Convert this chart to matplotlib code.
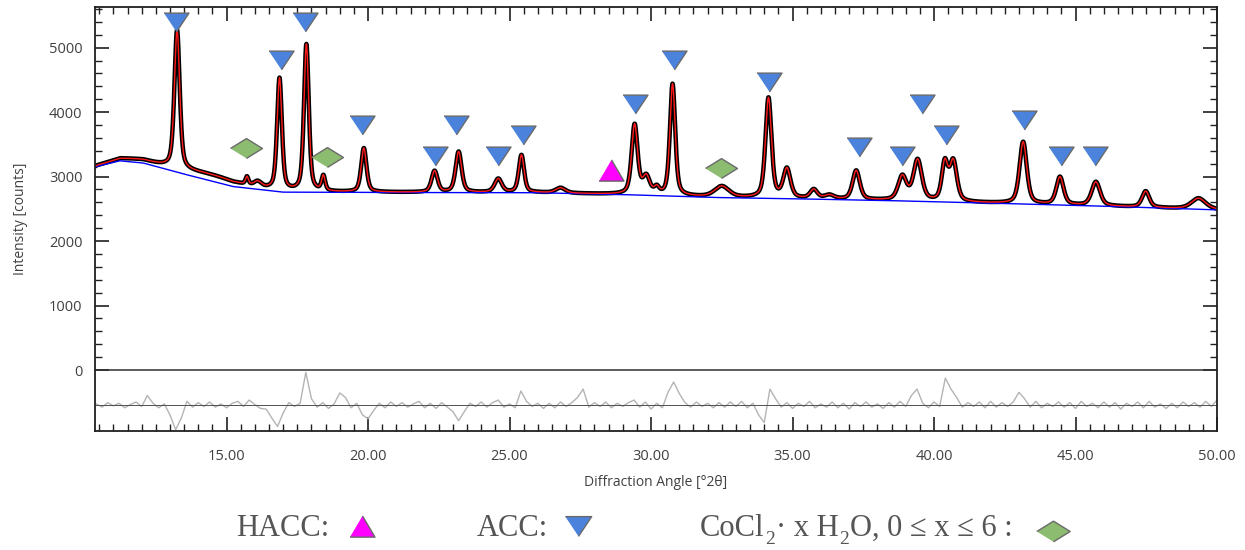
import numpy as np
import matplotlib
matplotlib.use('Agg')
import matplotlib.pyplot as plt
from matplotlib.lines import Line2D
from matplotlib.ticker import FixedLocator, MultipleLocator

plt.rcParams['font.family'] = ['Open Sans', 'DejaVu Sans']

# background (blue) control points
bg_x = [10.35, 10.41, 11.23, 12.06, 13.6, 15.23, 17.0, 21.7, 26.0, 29.3, 32.4, 35.8, 38.76, 42.9, 46.4, 50.0]
bg_y = [3140, 3157, 3245, 3210, 3028, 2846, 2759, 2753, 2750, 2717, 2675, 2650, 2624, 2578, 2536, 2484]

# fitted peaks: position [deg 2theta], height above background [counts], FWHM [deg]
pk_pos = [11.8, 13.25, 14.5, 15.72, 16.10, 16.87, 17.82, 18.42, 19.85, 22.35, 23.20, 24.60,
          25.42, 26.80, 29.42, 29.83, 30.20, 30.76, 32.50, 34.15, 34.80, 35.75, 36.30,
          37.25, 38.88, 39.42, 40.38, 40.68, 43.15, 44.45, 45.72, 47.48, 49.35]
pk_h = [40, 2150, 90, 120, 80, 1740, 2280, 230, 680, 330, 630, 210,
        580, 80, 1080, 270, 100, 1730, 170, 1550, 450, 140, 60,
        450, 370, 630, 580, 620, 960, 430, 370, 250, 170]
pk_w = [2.0, 0.22, 2.5, 0.12, 0.30, 0.20, 0.20, 0.15, 0.22, 0.25, 0.25, 0.30,
        0.22, 0.40, 0.25, 0.30, 0.20, 0.22, 0.60, 0.25, 0.30, 0.30, 0.40,
        0.30, 0.35, 0.35, 0.25, 0.30, 0.30, 0.30, 0.35, 0.30, 0.60]

# difference curve (obs - calc), sampled every 0.2 deg from 10.4
res_start = 10.4
res_step = 0.2
residual = [20, -30, 40, -10, 30, -40, 10, 50, -20, 150,
            30, -40, 20, -150, -380, -200, 60, -30, 40, -20,
            50, -30, 20, -40, 30, 60, -20, 80, 10, -50,
            -60, -200, -330, -120, 40, -20, 30, 510, 100, -30,
            40, -50, 20, 190, 120, -40, 30, -150, -210, -80,
            30, -40, 50, -20, 40, -30, 20, 60, -40, 30,
            -50, 40, -30, -100, -240, -100, 30, -20, 50, -30,
            40, 80, -30, 20, -40, 220, 60, -20, 30, -50,
            30, -40, 50, -20, 40, 120, 250, -30, 40, -20,
            50, -40, 30, -20, 40, 80, -30, 50, -60, 30,
            -40, 200, 360, 180, 40, -30, 50, -20, 30, -40,
            40, -30, 50, -20, 60, -40, 30, -150, -270, 250,
            100, -30, 40, -50, 30, -20, 60, -40, 20, -30,
            50, -40, 30, -60, 40, -20, 50, -30, 20, -50,
            40, -30, 60, -20, 150, 250, 30, -40, 50, -20,
            420, 250, 120, -30, 40, -20, 50, -40, 60, -30,
            40, -20, 50, 200, 100, -30, 60, -40, 30, -20,
            50, -30, 40, -50, 60, -20, 30, -40, 50, -30,
            40, -60, 30, -20, 50, -40, 60, -30, 20, -50,
            30, -40, 50, -20, 40, -30, 60, -20, 80]
res_offset = -545

# phase markers
acc_x = [13.21, 16.92, 17.76, 19.77, 22.35, 23.09, 24.58, 25.46, 29.45, 30.82, 34.18,
         37.35, 38.87, 39.58, 40.42, 43.18, 44.48, 45.68]
acc_y = [5404, 4814, 5404, 3804, 3323, 3804, 3323, 3649, 4130, 4814, 4472,
         3463, 3323, 4130, 3649, 3882, 3323, 3323]
hacc_x = [28.6]
hacc_y = [3106]
cocl_x = [15.68, 18.54, 32.48]
cocl_y = [3447, 3307, 3137]

tri_dn = [(-1, 0.75), (1, 0.75), (0, -0.75)]
tri_up = [(-1, -0.85), (1, -0.85), (0, 0.85)]
diamond = [(-1, 0), (0, 0.62), (1, 0), (0, -0.62)]
blue = '#4a82dc'
magenta = '#ff00ff'
green = '#8cbc70'
edge = '#6a6a6a'

x = np.linspace(10.35, 50.0, 5000)
bg = np.interp(x, bg_x, bg_y)
calc = bg.copy()
for c, h, w in zip(pk_pos, pk_h, pk_w):
    d = (x - c) / w
    calc += h * (0.5 / (1 + 4 * d**2) + 0.5 * np.exp(-4 * np.log(2) * d**2))
res_x = res_start + res_step * np.arange(len(residual))

fig = plt.figure(figsize=(12.45, 5.5), dpi=100)
ax = fig.add_axes([95 / 1245, 1 - 431 / 550, 1122 / 1245, 424 / 550])

ax.plot(res_x, res_offset + np.array(residual), color='#b4b4b4', lw=1.0)
ax.axhline(res_offset, color='#505050', lw=0.7)
ax.axhline(0, color='#303030', lw=1.1)
ax.plot(x, calc, color='black', lw=3.2)
ax.plot(bg_x, bg_y, color='#0000ff', lw=1.0)
ax.plot(x, calc, color='#ff1a1a', lw=1.0)

ax.plot(acc_x, acc_y, ls='none', marker=tri_dn, ms=18, mfc=blue, mec=edge, mew=1.0)
ax.plot(hacc_x, hacc_y, ls='none', marker=tri_up, ms=18, mfc=magenta, mec=edge, mew=1.0)
ax.plot(cocl_x, cocl_y, ls='none', marker=diamond, ms=23, mfc=green, mec=edge, mew=1.0)

ax.set_xlim(10.35, 50.0)
ax.set_ylim(-945, 5630)
ax.set_xticks([15, 20, 25, 30, 35, 40, 45, 50])
ax.set_xticklabels(['15.00', '20.00', '25.00', '30.00', '35.00', '40.00', '45.00', '50.00'])
ax.xaxis.set_minor_locator(MultipleLocator(0.5))
ax.set_yticks([0, 1000, 2000, 3000, 4000, 5000])
ax.yaxis.set_minor_locator(FixedLocator([v for v in range(200, 5601, 200) if v % 1000]))
ax.tick_params(which='both', direction='in', top=True, right=True, color='#202020',
               labelcolor='#404040', labelsize=10.5)
ax.tick_params(which='major', length=10, width=1.2)
ax.tick_params(which='minor', length=5, width=1.0)
ax.tick_params(axis='x', pad=13)
ax.tick_params(axis='y', pad=9)
for s in ax.spines.values():
    s.set_color('#202020')
    s.set_linewidth(1.3)
ax.set_xlabel('Diffraction Angle [°2θ]', fontsize=10, color='#404040', labelpad=8)
ax.set_ylabel('Intensity [counts]', fontsize=10, color='#404040', labelpad=15)

# legend row under the chart
def fx(px):
    return px / 1245

def fy(py):
    return 1 - py / 550

txt = dict(fontsize=22, family='Liberation Serif', color='#555555')
fig.text(fx(236), fy(536), 'HACC:', va='baseline', **txt)
fig.text(fx(477), fy(536), 'ACC:', va='baseline', **txt)

# formula drawn piece by piece so the subscripts sit low like in the original
first = fig.text(fx(700), fy(536), 'CoCl', va='baseline', **txt)
pieces = [('2', True), ('· x H', False), ('2', True), ('O, 0 ≤ x ≤ 6 :', False)]
prev = first
for s, sub in pieces:
    if sub:
        prev = ax.annotate(s, xy=(1, 0), xycoords=(prev, first), xytext=(0.5, -0.5),
                           textcoords='offset points', va='baseline', ha='left',
                           fontsize=14, family='Liberation Serif', color='#555555',
                           annotation_clip=False)
    else:
        prev = ax.annotate(s, xy=(1, 0), xycoords=(prev, first), xytext=(0.5, 0),
                           textcoords='offset points', va='bottom', ha='left',
                           annotation_clip=False, **txt)

fig.add_artist(Line2D([fx(361.5)], [fy(526)], transform=fig.transFigure, marker=tri_up,
                      ms=18, mfc=magenta, mec=edge, mew=1.0, ls='none'))
fig.add_artist(Line2D([fx(578)], [fy(526)], transform=fig.transFigure, marker=tri_dn,
                      ms=19, mfc=blue, mec=edge, mew=1.0, ls='none'))
fig.add_artist(Line2D([fx(1053)], [fy(531)], transform=fig.transFigure, marker=diamond,
                      ms=24, mfc=green, mec=edge, mew=1.0, ls='none'))

fig.savefig('out.png', dpi=100)
